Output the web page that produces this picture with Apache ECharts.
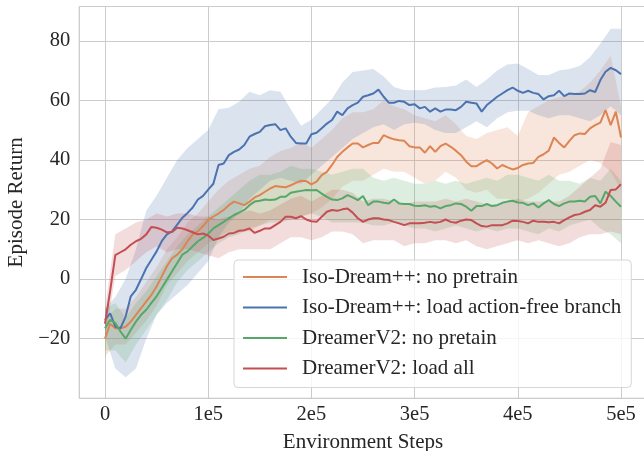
<!DOCTYPE html>
<html>
<head>
<meta charset="utf-8">
<script src="https://cdn.jsdelivr.net/npm/echarts@6/dist/echarts.min.js"></script>
<style>
  html, body { margin: 0; padding: 0; background: #ffffff; }
  #chart { width: 644px; height: 451px; }
</style>
</head>
<body>
<div id="chart"></div>
<script>
// Legend labels, in drawing order
const seriesNames = [
  'Iso-Dream++: no pretrain',
  'Iso-Dream++: load action-free branch',
  'DreamerV2: no pretain',
  'DreamerV2: load all'
];
const seriesColors = ['#dd8452', '#4c72b0', '#55a868', '#c44e52'];
const bandColors = ['rgba(221,132,82,0.2)', 'rgba(76,114,176,0.2)', 'rgba(85,168,104,0.2)', 'rgba(196,78,82,0.2)'];

// Environment steps of the mean curves (every 5e3) and of the spread bands (every 1e4)
const lineSteps = [];
for (let s = 0; s <= 500000; s += 5000) lineSteps.push(s);
const bandSteps = [];
for (let s = 0; s <= 500000; s += 10000) bandSteps.push(s);

// Tick labels
const xTickLabels = { 0: '0', 100000: '1e5', 200000: '2e5', 300000: '3e5', 400000: '4e5', 500000: '5e5' };
const yTickValues = [-20, 0, 20, 40, 60, 80];

// Mean episode return
const isoNoPretrain = [
  -20, -15, -16.5, -16.5, -16, -14.3, -12, -9.8, -7.5, -5.3,
  -2.5, 0.9, 4.3, 7, 8.2, 10, 12.7, 15, 16, 17.8,
  19.8, 21, 22, 23.2, 24.8, 26, 25.4, 24.8, 26, 27.4,
  28.2, 29.3, 30.4, 31.2, 31, 30.8, 31.5, 32.3, 33, 32.9,
  31.8, 32.7, 34.9, 36, 38.3, 41, 42.7, 44.2, 45.5, 45.5,
  44.2, 45, 45.7, 45.7, 48.3, 47.5, 46.9, 46.6, 46.4, 44.6,
  44.2, 44.2, 42.4, 44.6, 42.7, 44.6, 45.5, 44.4, 43.1, 41.6,
  39.4, 37.9, 37.9, 39, 39.9, 38.8, 37.1, 38.3, 37.5, 36.8,
  37.3, 38.3, 38.8, 39, 41, 41.9, 43.1, 47.5, 45.7, 44.2,
  46.4, 48.3, 48.9, 48.7, 50.6, 51.7, 52.5, 56.7, 51.7, 56.2,
  47.5
];
const isoLoadActionFree = [
  -13.7, -11.5, -16, -16.5, -12.6, -5.8, -3.6, 0, 3.7, 6.5,
  9.3, 12.7, 15, 16, 18.3, 20.6, 22.2, 24, 26.7, 27.9,
  30, 32, 38.3, 38.8, 41.6, 42.7, 43.5, 45, 47.8, 48.7,
  49.4, 51.3, 51.7, 52, 50, 50.6, 47.8, 45.7, 45.5, 45.5,
  48.6, 49.1, 50.6, 52.2, 53.4, 56.2, 55, 57.3, 58.4, 59.2,
  61.2, 61.7, 62.3, 63.6, 61.2, 59.2, 59.2, 59.8, 59.5, 58.4,
  58.7, 57.3, 57.8, 56.2, 57.3, 56.2, 56.9, 56.9, 56.7, 57.8,
  59.5, 59.2, 58.9, 56.2, 58.4, 59.8, 61.2, 62.3, 63.4, 64.3,
  63.2, 62.5, 63.2, 62.5, 62.1, 60.3, 61.4, 61.7, 63.2, 61.4,
  62.3, 62.1, 62.1, 62.3, 63.4, 62.8, 66.8, 69.6, 70.9, 70.1,
  68.8
];
const dreamerNoPretrain = [
  -16.5, -13.7, -14.8, -17.6, -20, -17, -14.3, -12, -10.3, -8,
  -5.8, -3, -0.2, 2.6, 5.4, 8.2, 9.3, 11, 12.7, 13.8,
  15.2, 17, 18.1, 19.2, 20.4, 21.5, 22.3, 23.2, 24.8, 26,
  26.3, 26.7, 26.5, 26.7, 27.6, 27.6, 29, 29.3, 29.6, 29.9,
  29.8, 29.9, 28.7, 27.6, 26.7, 26.5, 27.1, 28.2, 27.4, 26.5,
  27.9, 24.8, 26, 26, 25.6, 25.4, 26.7, 25.4, 25.2, 25.2,
  24.6, 24.5, 24.8, 24.3, 24.5, 23.7, 24.5, 24.8, 25.4, 25.2,
  24.3, 22.9, 24.5, 24.5, 25.2, 24.5, 24.8, 25.6, 26, 26.3,
  25.7, 25.6, 24.8, 25.4, 24, 25.4, 26.5, 25.2, 24.5, 25.4,
  26, 26, 26.3, 26, 27.6, 27.9, 25.4, 29.3, 27.9, 26,
  24.3
];
const dreamerLoadAll = [
  -15, -4, 8, 9, 10, 11.5, 12.7, 13.5, 15, 17.5,
  17.2, 16.6, 15.7, 15.8, 17.2, 17, 16.4, 15.7, 15, 15.3,
  14.6, 13.1, 13.6, 14.2, 15.3, 15.5, 16.2, 16.4, 17, 15.5,
  16.2, 17, 17, 18.1, 19.2, 20.9, 20.9, 20.4, 21.1, 20,
  19.4, 19.2, 20.9, 22.6, 23.2, 22.9, 23.4, 23.7, 22.3, 20.4,
  19.2, 20, 20.4, 20.4, 20, 19.8, 19.2, 18.7, 18.1, 18.7,
  18.7, 18.7, 18.9, 19.2, 18.9, 19.2, 20, 19.2, 18.9, 19.6,
  20, 19.8, 18.7, 17.8, 17.6, 18.1, 18.1, 18.1, 18.7, 19.6,
  19.5, 19.2, 18.7, 19.6, 19.2, 19.2, 19.1, 19.2, 18.7, 19.8,
  20.7, 21.5, 21.8, 22.6, 23.2, 24.8, 24.3, 25.6, 29.9, 30.1,
  31.8
];

// Spread bands (upper / lower edge)
const isoNoPretrainUpper = [
  -14, -10, -10, -6, -1, 4, 10, 14, 19, 22,
  26, 30, 33, 35, 37, 38, 41, 43, 44, 46,
  44, 47, 50, 54, 56, 56, 57, 60, 58, 57,
  55, 54, 53, 55, 52, 48, 47, 49, 50, 51,
  48, 56, 58, 60, 61, 62, 63, 66, 70, 75,
  58
];
const isoNoPretrainLower = [
  -26, -22, -22, -18, -14, -9, -2, 2, 6, 9,
  12, 14, 16, 16, 16, 18, 20, 20, 20, 21,
  22, 24, 27, 31, 33, 33, 35, 37, 36, 36,
  34, 32, 33, 36, 34, 30, 29, 30, 27, 27,
  26, 27, 29, 32, 35, 36, 38, 40, 39, 36,
  30
];
const isoLoadActionFreeUpper = [
  -10, -6, 0, 10, 23, 28, 34, 40, 44, 47,
  50, 57, 57.5, 59.5, 62.9, 61.7, 63.4, 62.9, 57, 51.5,
  53.5, 57, 60.5, 66, 69.5, 70, 70.5, 68, 64.5, 63.5,
  63.4, 63.5, 64.3, 64.5, 65, 67, 64.5, 67, 70, 72,
  72.4, 70.5, 68.5, 68.5, 70, 70.5, 71.5, 74.5, 79, 84,
  84
];
const isoLoadActionFreeLower = [
  -19, -30, -33, -30, -20, -12, -8, -5, -2, 2,
  6, 14, 19, 22, 27, 30, 33, 34, 33, 32,
  35, 38, 41, 44, 47, 49, 51, 52, 50, 52,
  52.5, 52, 50, 49, 49, 51, 53, 51, 54, 56,
  56.5, 56.5, 55, 54, 55, 55, 54, 53, 55, 58,
  55
];
const dreamerNoPretrainUpper = [
  -10, -8, -13, -8, -4, 1, 6, 11, 15, 18,
  21, 24, 27, 30, 33, 35, 35, 36, 38, 37,
  37, 36, 35, 36, 37, 37, 34, 33, 34, 33,
  32, 32, 33, 32, 33, 32, 33, 34, 33, 35,
  35, 34, 33, 35, 33, 33, 32, 34, 33, 37,
  33
];
const dreamerNoPretrainLower = [
  -24, -24, -28, -22, -17, -12, -7, -1, 3, 6,
  9, 12, 14, 15, 17, 18, 19, 19, 20, 21,
  22, 21, 19, 19, 19, 19, 18, 18, 19, 18,
  17, 17, 16, 17, 18, 17, 16, 17, 16, 17,
  17, 16, 15, 17, 16, 18, 19, 20, 17, 15,
  12
];
const dreamerLoadAllUpper = [
  -10, 15, 17, 19, 20, 22, 21, 22, 22, 21,
  21, 20, 21, 22, 23, 22, 23, 25, 27, 28,
  26, 28, 30, 30, 29, 26, 27, 27, 26, 25,
  26, 26, 26, 27, 26, 27, 26, 25, 25, 26,
  27, 26, 26, 26, 26, 28, 31, 34, 37, 46,
  45
];
const dreamerLoadAllLower = [
  -20, 1, 3, 6, 9, 11, 9, 10, 10, 9,
  8, 7, 9, 10, 10, 10, 10, 12, 14, 14,
  13, 14, 16, 16, 15, 12, 13, 13, 13, 11,
  12, 12, 13, 13, 12, 13, 11, 10, 11, 12,
  13, 12, 13, 12, 11, 12, 14, 15, 15, 16,
  15
];

const means = [isoNoPretrain, isoLoadActionFree, dreamerNoPretrain, dreamerLoadAll];
const uppers = [isoNoPretrainUpper, isoLoadActionFreeUpper, dreamerNoPretrainUpper, dreamerLoadAllUpper];
const lowers = [isoNoPretrainLower, isoLoadActionFreeLower, dreamerNoPretrainLower, dreamerLoadAllLower];

const FONT = '"Liberation Serif", "Times New Roman", serif';
const TEXT = '#262626';
const GRID = '#cccccc';

// Shaded spread: one polygon built from the upper edge and the reversed lower edge
function bandSeries(k) {
  return {
    type: 'custom',
    name: seriesNames[k] + ' spread',
    silent: true,
    z: 1,
    data: [[0, 0]],
    renderItem: function (params, api) {
      const pts = [];
      for (let i = 0; i < bandSteps.length; i++) pts.push(api.coord([bandSteps[i], uppers[k][i]]));
      for (let i = bandSteps.length - 1; i >= 0; i--) pts.push(api.coord([bandSteps[i], lowers[k][i]]));
      return { type: 'polygon', shape: { points: pts }, style: { fill: bandColors[k] } };
    }
  };
}

function lineSeries(k) {
  return {
    type: 'line',
    name: seriesNames[k],
    data: lineSteps.map((s, i) => [s, means[k][i]]),
    symbol: 'none',
    z: 2,
    lineStyle: { color: seriesColors[k], width: 2 },
    itemStyle: { color: seriesColors[k] },
    emphasis: { disabled: true }
  };
}

const chart = echarts.init(document.getElementById('chart'), null, { renderer: 'canvas' });
chart.setOption({
  animation: false,
  backgroundColor: '#ffffff',
  grid: {
    left: 79.2, right: -2.8, top: 6.5, bottom: 52.8,
    outerBoundsMode: 'none',
    containLabel: false,
    show: true, borderColor: GRID, borderWidth: 1, backgroundColor: 'transparent'
  },
  xAxis: {
    type: 'value',
    min: -25000, max: 525000, splitNumber: 5,
    name: 'Environment Steps', nameLocation: 'middle', nameGap: 34,
    nameTextStyle: { fontFamily: FONT, fontSize: 21, color: TEXT },
    axisLine: { show: false },
    axisTick: { show: false },
    axisLabel: {
      margin: 6, fontFamily: FONT, fontSize: 20.5, color: TEXT,
      formatter: v => (xTickLabels[v] !== undefined ? xTickLabels[v] : '')
    },
    splitLine: { show: true, lineStyle: { color: GRID, width: 1 } }
  },
  yAxis: {
    type: 'value',
    min: -40, max: 91.5, interval: 20,
    name: 'Episode Return', nameLocation: 'middle', nameGap: 41,
    nameTextStyle: { fontFamily: FONT, fontSize: 21, color: TEXT },
    axisLine: { show: false },
    axisTick: { show: false },
    axisLabel: {
      margin: 9, fontFamily: FONT, fontSize: 20.5, color: TEXT,
      formatter: v => (yTickValues.indexOf(v) >= 0 ? (v < 0 ? '\u2212' + Math.abs(v) : String(v)) : '')
    },
    splitLine: { show: true, lineStyle: { color: GRID, width: 1 } }
  },
  legend: {
    data: seriesNames,
    orient: 'vertical',
    left: 234, top: 260,
    icon: 'rect',
    itemWidth: 44, itemHeight: 2, itemGap: 8.5,
    padding: [6, 10, 8, 9],
    backgroundColor: 'rgba(255,255,255,0.8)',
    borderColor: '#d6d6d6', borderWidth: 1, borderRadius: 4,
    selectedMode: false,
    textStyle: { fontFamily: FONT, fontSize: 21, color: TEXT, lineHeight: 22, padding: [0, 0, 0, 10] }
  },
  series: [0, 1, 2, 3].map(bandSeries).concat([0, 1, 2, 3].map(lineSeries))
});
</script>
</body>
</html>
